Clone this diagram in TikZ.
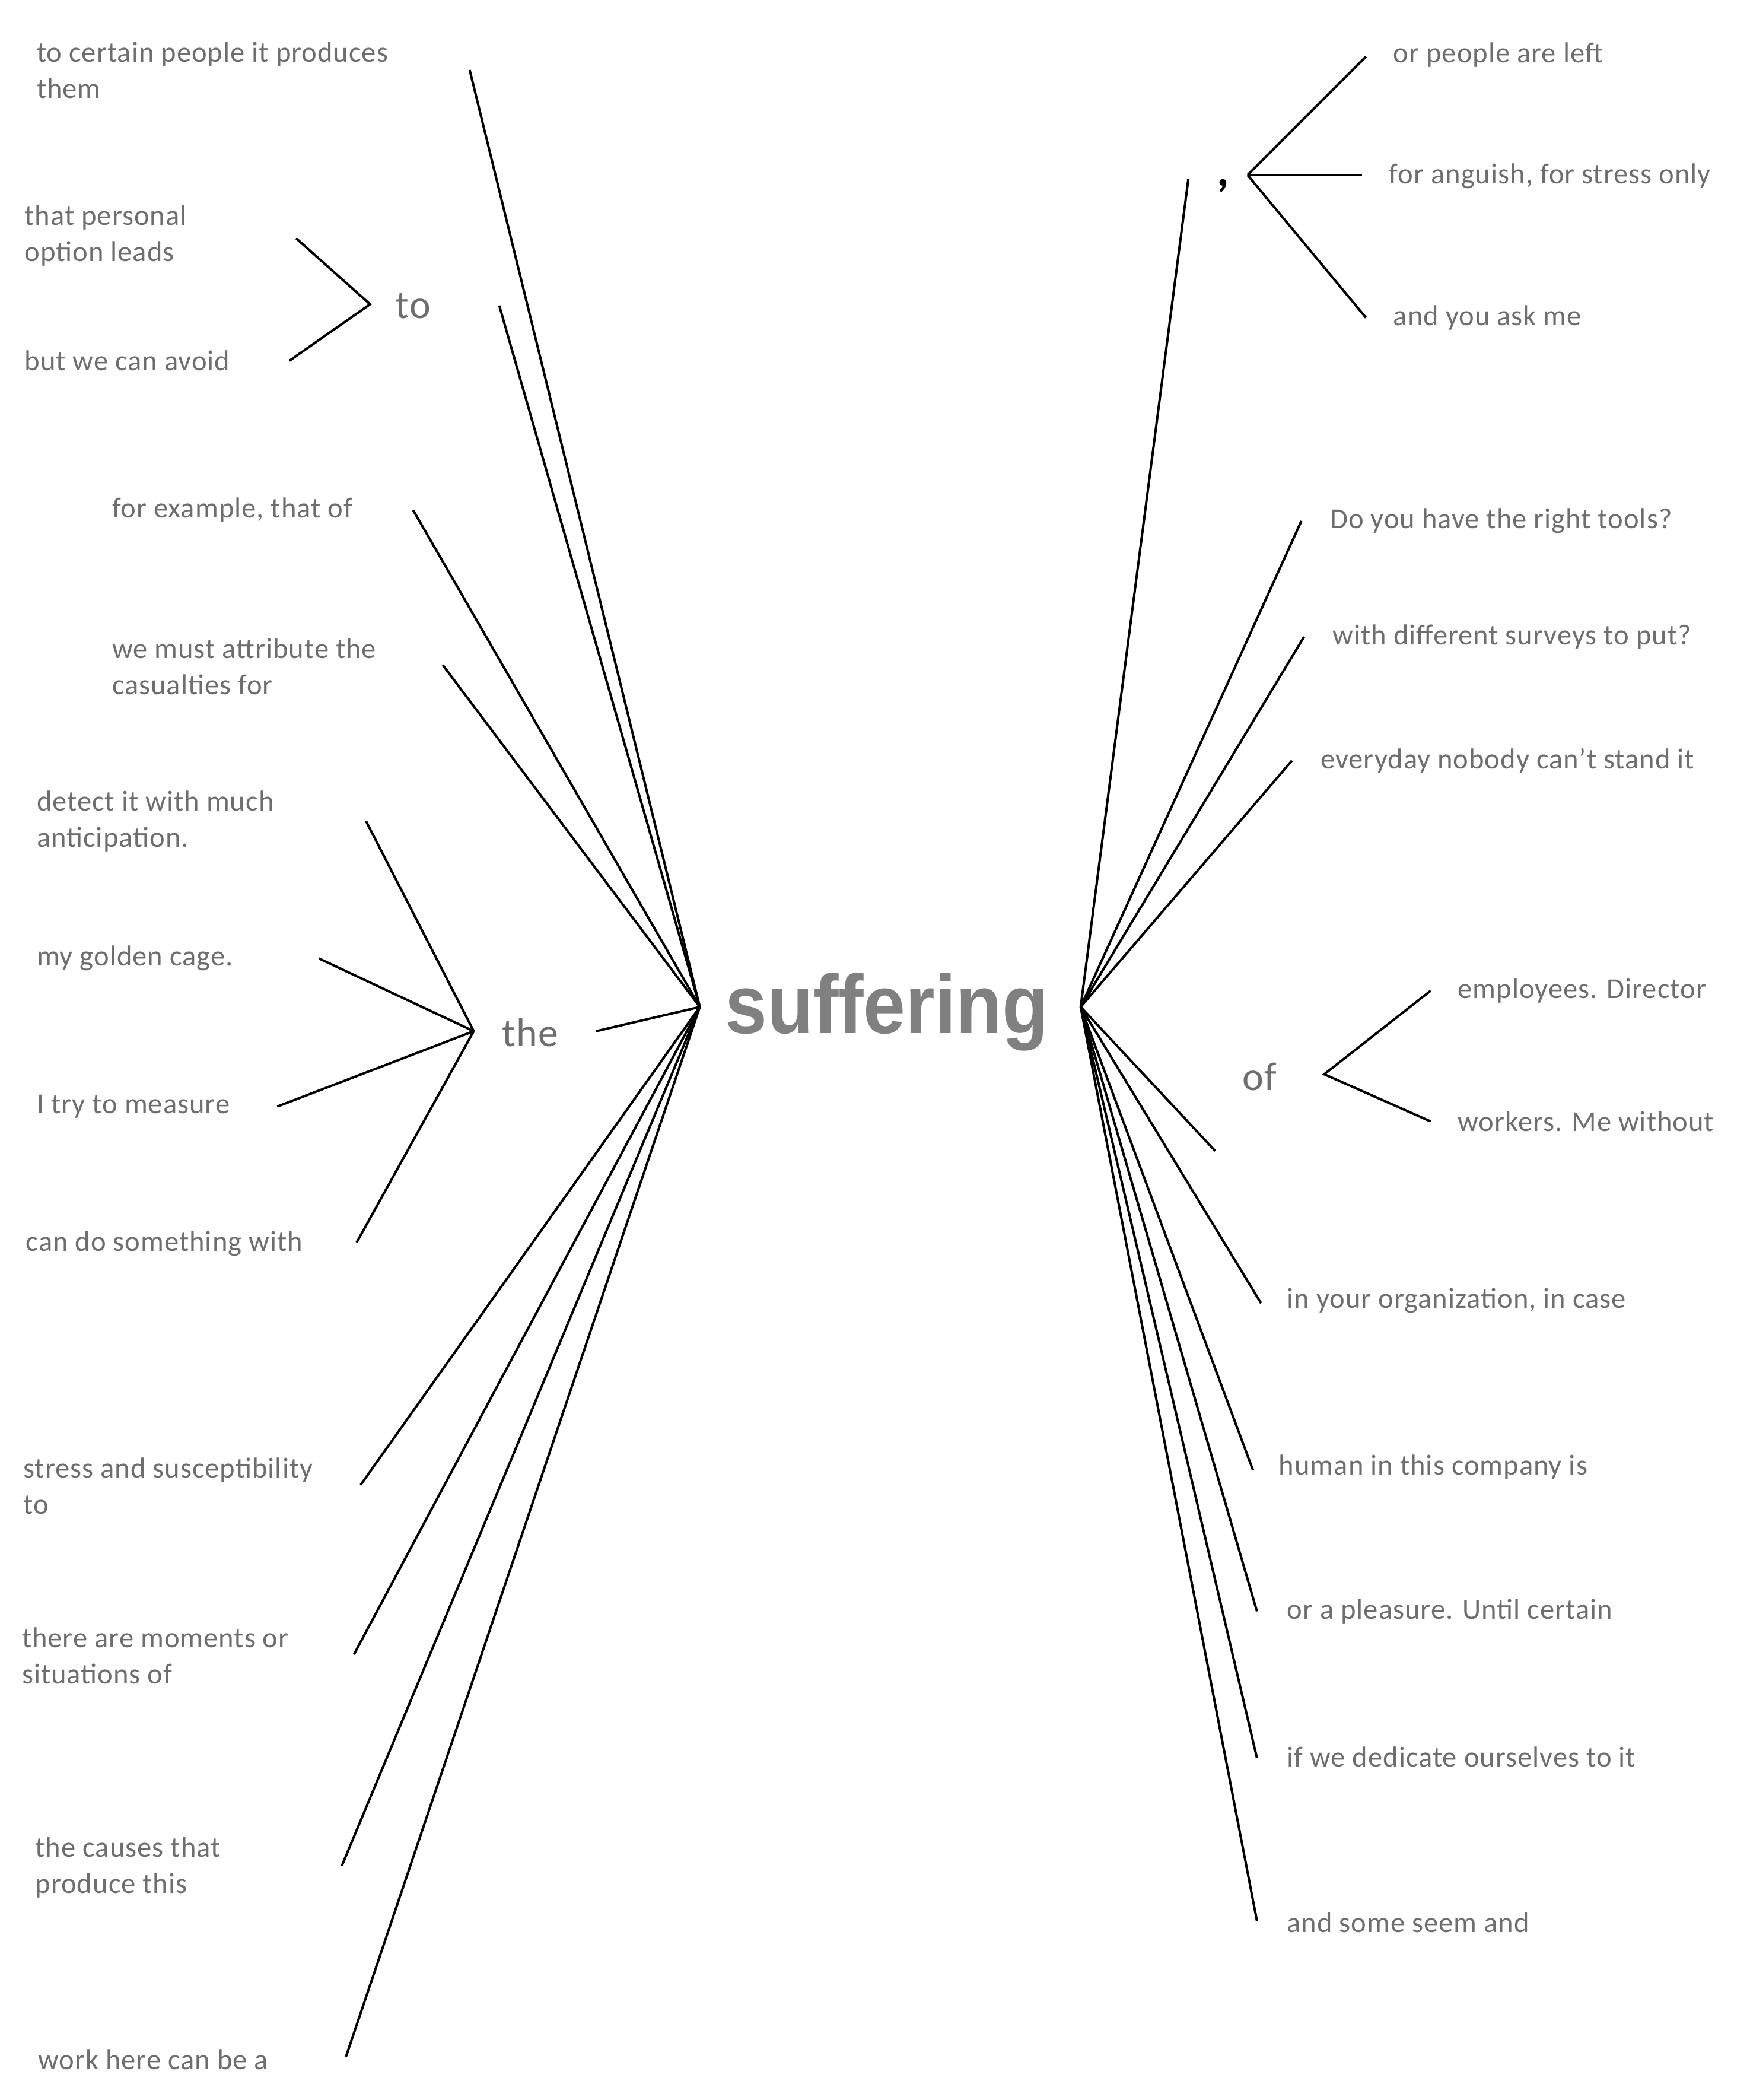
\documentclass[tikz,border=0pt]{standalone}
\usepackage{fontspec}
\setmainfont{Carlito}[LetterSpace=2]
\newfontfamily\hub{Liberation Sans}
\definecolor{txt}{RGB}{110,110,110}
\definecolor{big}{RGB}{128,128,128}
\begin{document}
\begin{tikzpicture}[x=0.02cm,y=-0.02cm,
  lbl/.style={anchor=west,text=txt,font=\fontsize{12.2}{15.3}\selectfont,align=left,inner sep=0},
  conn/.style={draw=black,line width=1pt},
  word/.style={text=txt,font=\fontsize{17}{18}\selectfont,inner sep=0}]
\useasboundingbox (0,0) rectangle (1300,1560);
\coordinate (L) at (520,748);
\coordinate (R) at (803,748);
\node[text=big,font=\hub\bfseries\fontsize{32}{34}\selectfont,yscale=1.1] (suf) at (659,752) {suffering};
% left texts
\node[lbl] (t1) at (27,52) {to certain people it produces\\them};
\node[lbl] (t2) at (18,175) {that personal\\option leads};
\node[lbl] (t3) at (18,268) {but we can avoid};
\node[lbl] (t4) at (83,379) {for example, that of};
\node[lbl] (t5) at (83,495) {we must attribute the\\casualties for};
\node[lbl] (t6) at (27,610) {detect it with much\\anticipation.};
\node[lbl] (t7) at (27,712) {my golden cage.};
\node[lbl] (t8) at (27,822) {I try to measure};
\node[lbl] (t9) at (19,924) {can do something with};
\node[lbl] (t10) at (17,1104) {stress and susceptibility\\to};
\node[lbl] (t11) at (16,1230) {there are moments or\\situations of};
\node[lbl] (t12) at (26,1387) {the causes that\\produce this};
\node[lbl] (t13) at (28,1530) {work here can be a};
\node[word] (to) at (307,227) {to};
\node[word] (the) at (394,767) {the};
% right texts
\node[lbl] (r1) at (1035,41) {or people are left};
\node[lbl] (r2) at (1032,131) {for anguish, for stress only};
\node[lbl] (r3) at (1035,236) {and you ask me};
\node[lbl] (r4) at (988,387) {Do you have the right tools?};
\node[lbl] (r5) at (990,473) {with different surveys to put?};
\node[lbl] (r6) at (981,565) {everyday nobody can’t stand it};
\node[lbl] (r7) at (1083,736) {employees. Director};
\node[lbl] (r8) at (1083,833) {workers. Me without};
\node[lbl] (r9) at (956,966) {in your organization, in case};
\node[lbl] (r10) at (950,1090) {human in this company is};
\node[lbl] (r11) at (956,1197) {or a pleasure. Until certain};
\node[lbl] (r12) at (956,1305) {if we dedicate ourselves to it};
\node[lbl] (r13) at (956,1428) {and some seem and};
\node[word] (of) at (936,800) {of};
\node[text=black,font=\fontsize{20}{20}\selectfont\bfseries,inner sep=0] (comma) at (909,138) {,};
% left connectors
\coordinate (a1) at (349,52);
\coordinate (a2) at (371,227);
\coordinate (a3) at (307,379);
\coordinate (a4) at (329,494);
\coordinate (a5) at (443,766);
\coordinate (a6) at (268,1103);
\coordinate (a7) at (263,1229);
\coordinate (a8) at (254,1386);
\coordinate (a9) at (257,1528);
\foreach \p in {a1,a2,a3,a4,a5,a6,a7,a8,a9} \draw[conn] (L) -- (\p);
\coordinate (tv) at (275,226);
\coordinate (tA) at (220,177);
\coordinate (tB) at (215,268);
\draw[conn] (tA) -- (tv) -- (tB);
\coordinate (hv) at (352,766);
\coordinate (h1) at (272,610);
\coordinate (h2) at (237,712);
\coordinate (h3) at (206,822);
\coordinate (h4) at (265,923);
\foreach \p in {h1,h2,h3,h4} \draw[conn] (hv) -- (\p);
% right connectors
\coordinate (b1) at (883,133);
\coordinate (b2) at (967,387);
\coordinate (b3) at (969,473);
\coordinate (b4) at (960,565);
\coordinate (b5) at (903,855);
\coordinate (b6) at (937,968);
\coordinate (b7) at (931,1092);
\coordinate (b8) at (934,1197);
\coordinate (b9) at (934,1306);
\coordinate (b10) at (934,1427);
\foreach \p in {b1,b2,b3,b4,b5,b6,b7,b8,b9,b10} \draw[conn] (R) -- (\p);
\coordinate (cv) at (927,130);
\coordinate (c1) at (1015,42);
\coordinate (c2) at (1012,130);
\coordinate (c3) at (1015,236);
\foreach \p in {c1,c2,c3} \draw[conn] (cv) -- (\p);
\coordinate (ov) at (984,798);
\coordinate (o1) at (1063,736);
\coordinate (o2) at (1063,833);
\draw[conn] (o1) -- (ov) -- (o2);
\end{tikzpicture}
\end{document}
